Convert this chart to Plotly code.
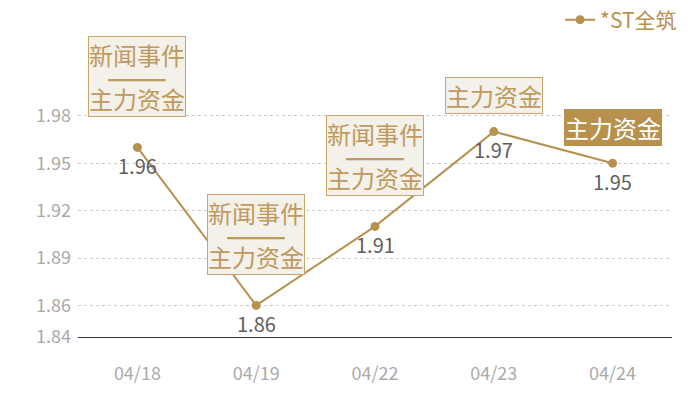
import plotly.graph_objects as go

dates = ["04/18", "04/19", "04/22", "04/23", "04/24"]
prices = [1.96, 1.86, 1.91, 1.97, 1.95]
news_event = [True, True, True, False, False]
fund_event = [True, True, True, True, True]
highlight = [False, False, False, False, True]
series_name = "*ST全筑"
y_ticks = [1.84, 1.86, 1.89, 1.92, 1.95, 1.98, 1.99]
y_ticktext = ["1.84", "1.86", "1.89", "1.92", "1.95", "1.98", ""]

GOLD = "#b8914f"
FONT = "Noto Sans CJK SC, Noto Sans, sans-serif"

fig = go.Figure()
fig.add_trace(go.Scatter(
    x=dates, y=prices, name=series_name, mode="lines+markers",
    line=dict(color=GOLD, width=2),
    marker=dict(color=GOLD, size=9),
    hoverinfo="skip",
))


def big(s):
    return '<span style="font-size:24px">' + s + '</span>'


annotations = []
for d, p, n, f, h in zip(dates, prices, news_event, fund_event, highlight):
    lines = []
    if n:
        lines.append(big("新闻事件"))
    if n and f:
        lines.append("<b>" + big("———") + "</b>")
    if f:
        lines.append(big("主力资金"))
    text = "<br>".join(lines)
    multi = len(lines) > 1
    annotations.append(dict(
        x=d, y=p, xref="x", yref="y", text=text, showarrow=False,
        yanchor="bottom", xanchor="center",
        yshift=30 if multi else (17 if h else 18),
        font=dict(family=FONT, size=16.8, color="#ffffff" if h else "#bf9a5e"),
        bgcolor=GOLD if h else "#f4f0ea",
        bordercolor=GOLD if h else "#c8a56a",
        borderwidth=1, borderpad=0, align="center",
    ))
    annotations.append(dict(
        x=d, y=p, xref="x", yref="y", text=f"{p:.2f}", showarrow=False,
        yanchor="middle", xanchor="center", yshift=-18,
        font=dict(family=FONT, size=20, color="#5f5f5f"),
    ))

# the page body adds an 8px offset; margins compensate for it
fig.update_layout(
    width=692, height=392,
    margin=dict(l=70, r=28, t=92, b=63, autoexpand=False),
    paper_bgcolor="white", plot_bgcolor="white",
    font=dict(family=FONT),
    showlegend=True,
    legend=dict(
        orientation="h", x=1.017, xanchor="right", y=1 - 12 / 392, yanchor="middle",
        yref="container", itemwidth=30,
        font=dict(family=FONT, size=21, color=GOLD),
        bgcolor="rgba(0,0,0,0)",
    ),
    annotations=annotations,
    xaxis=dict(
        type="category", range=[-0.5, 4.5], showgrid=False, zeroline=False,
        showline=True, linecolor="#333333", linewidth=1, ticks="",
        tickfont=dict(family=FONT, size=18, color="#aaaaaa"),
        ticklabelstandoff=20, fixedrange=True, automargin=False,
    ),
    yaxis=dict(
        range=[1.84, 1.99], tickvals=y_ticks, ticktext=y_ticktext,
        showgrid=True, gridcolor="#cccccc", griddash="dot", gridwidth=1,
        zeroline=False, showline=False, ticks="",
        tickfont=dict(family=FONT, size=18, color="#aaaaaa"),
        ticklabelstandoff=6, fixedrange=True, automargin=False,
    ),
)

fig.write_html("out.html")
